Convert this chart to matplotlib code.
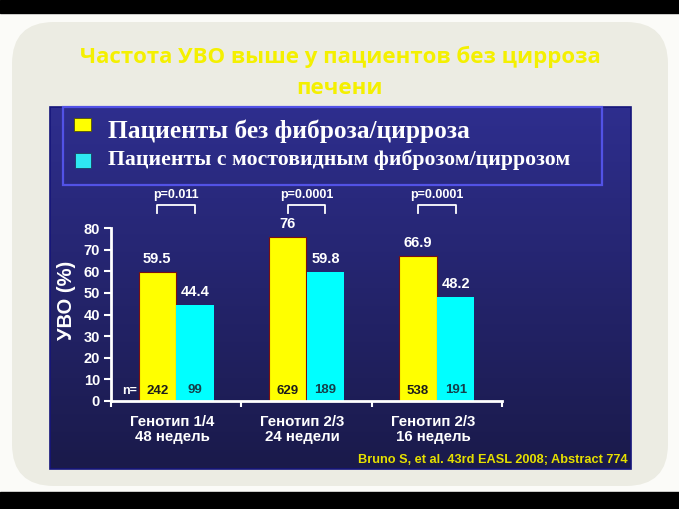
import numpy as np
import matplotlib
matplotlib.use('Agg')
import matplotlib.pyplot as plt
from matplotlib.patches import FancyBboxPatch, Rectangle

# data
groups = ['Генотип 1/4\n48 недель', 'Генотип 2/3\n24 недели', 'Генотип 2/3\n16 недель']
no_fibrosis = [59.5, 76, 66.9]
fibrosis = [44.4, 59.8, 48.2]
n_no_fibrosis = [242, 629, 538]
n_fibrosis = [99, 189, 191]
p_values = ['p=0.011', 'p=0.0001', 'p=0.0001']
legend_labels = ['Пациенты без фиброза/цирроза', 'Пациенты с мостовидным фиброзом/циррозом']
yticks = [0, 10, 20, 30, 40, 50, 60, 70, 80]

W, H = 679, 509
fig = plt.figure(figsize=(W / 100, H / 100), dpi=100)
fig.patch.set_facecolor('#fbfbf8')

# background layer in pixel coordinates
bg = fig.add_axes([0, 0, 1, 1])
bg.set_xlim(0, W)
bg.set_ylim(H, 0)
bg.axis('off')

bg.add_patch(Rectangle((0, 0), W, 13, color='black'))
bg.add_patch(Rectangle((0, 492), W, H - 492, color='black'))
bg.add_patch(FancyBboxPatch((12, 22), 656, 464, boxstyle='round,pad=0,rounding_size=42',
                            facecolor='#ecece3', edgecolor='none'))

# blue panel with vertical gradient
top = np.array([46, 46, 142]) / 255
bottom = np.array([26, 26, 74]) / 255
t = np.linspace(0, 1, 200)[:, None]
grad = (top * (1 - t) + bottom * t)[:, None, :]
bg.imshow(grad, extent=(50, 631, 469, 107), aspect='auto', interpolation='bilinear', zorder=1)
bg.add_patch(Rectangle((50, 107), 581, 362, fill=False, edgecolor='#15157a', lw=1.2, zorder=2))
bg.set_xlim(0, W)
bg.set_ylim(H, 0)

# legend box
bg.add_patch(Rectangle((63, 107), 539, 78, fill=False, edgecolor='#5252e6', lw=1.6, zorder=3))
bg.add_patch(Rectangle((74, 118), 17, 13, facecolor='#ffff00', edgecolor='#555500', lw=0.6, zorder=3))
bg.add_patch(Rectangle((75, 153), 16, 15, facecolor='#2ee8f2', edgecolor='#1a4060', lw=0.6, zorder=3))
bg.text(108, 131, legend_labels[0], color='white', fontsize=18.3, fontweight='bold',
        family='Liberation Serif', va='center', ha='left', zorder=4)
bg.text(108, 160, legend_labels[1], color='white', fontsize=15.7, fontweight='bold',
        family='Liberation Serif', va='center', ha='left', zorder=4)

# title
bg.text(340, 57, 'Частота УВО выше у пациентов без цирроза', color='#f4f000', fontsize=16,
        fontweight='bold', family='Open Sans', ha='center', va='center')
bg.text(340, 88, 'печени', color='#f4f000', fontsize=16,
        fontweight='bold', family='Open Sans', ha='center', va='center')

# citation
bg.text(628, 460, 'Bruno S, et al. 43rd EASL 2008; Abstract 774', color='#e6e000', fontsize=9.2,
        fontweight='bold', family='Liberation Sans', ha='right', va='center')

# y label
bg.text(66, 300, 'УВО (%)', color='white', fontsize=14.5, fontweight='bold',
        family='Liberation Sans', rotation=90, ha='center', va='center')

# chart axes: x 0..3 -> px 111..502, y 0..80 -> px 401..228
ax = fig.add_axes([111 / W, 1 - 401 / H, (502 - 111) / W, (401 - 228) / H])
ax.patch.set_alpha(0)
ax.set_xlim(0, 3)
ax.set_ylim(0, 80)

x = np.arange(len(groups)) + 0.5
w = 0.285
ax.bar(x - 0.145, no_fibrosis, w, color='#ffff00', edgecolor='#7a1010', lw=0.8, zorder=2)
ax.bar(x + 0.145, fibrosis, w, color='#00ffff', edgecolor='none', zorder=2)

txt = dict(color='white', fontweight='bold', family='Liberation Sans')
for i in range(len(groups)):
    ax.text(x[i] - 0.145, no_fibrosis[i] + 2.8, f'{no_fibrosis[i]:g}', ha='center', va='bottom', fontsize=10.5, **txt)
    ax.text(x[i] + 0.145, fibrosis[i] + 2.8, f'{fibrosis[i]:g}', ha='center', va='bottom', fontsize=10.5, **txt)
    ax.text(x[i] - 0.145, 4.6, str(n_no_fibrosis[i]), ha='center', va='center', fontsize=9.5,
            color='#1c1c1c', fontweight='bold', family='Liberation Sans', zorder=3)
    ax.text(x[i] + 0.145, 5.0, str(n_fibrosis[i]), ha='center', va='center', fontsize=9.5,
            color='#14404a', fontweight='bold', family='Liberation Sans', zorder=3)
    # p-value bracket
    ax.plot([x[i] - 0.145, x[i] - 0.145, x[i] + 0.145, x[i] + 0.145], [87, 90.6, 90.6, 87],
            color='white', lw=1.3, clip_on=False)
    ax.text(x[i], 95.3, p_values[i], ha='center', va='center', fontsize=9, **txt)
    ax.text(x[i] - 0.03, -6.3, groups[i], ha='center', va='top', fontsize=10.8, linespacing=1.1, **txt)

ax.text(0.14, 4.6, 'n=', ha='center', va='center', fontsize=9, **txt)

for s in ['top', 'right']:
    ax.spines[s].set_visible(False)
for s in ['left', 'bottom']:
    ax.spines[s].set_color('white')
    ax.spines[s].set_linewidth(2)
ax.set_yticks(yticks)
ax.set_xticks([0, 1, 2, 3])
ax.set_xticklabels([])
ax.tick_params(axis='y', colors='white', length=5, width=1.5, labelsize=10.5, pad=3)
ax.tick_params(axis='x', colors='white', length=4, width=1.5)
for lab in ax.get_yticklabels():
    lab.set_fontweight('bold')
    lab.set_family('Liberation Sans')

fig.savefig('out.png', dpi=100, facecolor=fig.get_facecolor())
